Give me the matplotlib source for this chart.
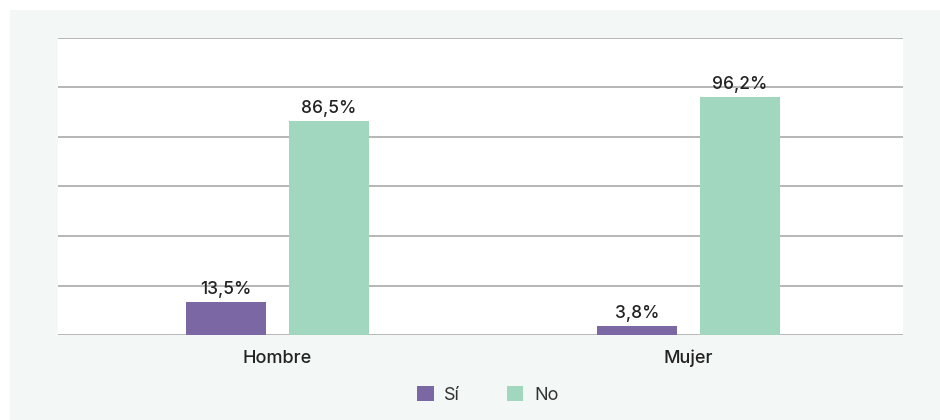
import matplotlib.pyplot as plt
from matplotlib.patches import Patch, Rectangle
import numpy as np

# Data
categories = ["Hombre", "Mujer"]
si_values = [13.5, 3.8]
no_values = [86.5, 96.2]
series_names = ["Sí", "No"]

purple = "#7b67a3"
green = "#a2d7bf"
panel_bg = "#f3f8f6"
text_color = "#222222"

plt.rcParams['font.family'] = ['Inter', 'DejaVu Sans']

fig = plt.figure(figsize=(9.4, 4.2), dpi=100, facecolor="white")
# light panel behind the chart
fig.patches.append(Rectangle((10 / 940, 0), 930 / 940, 410 / 420,
                             transform=fig.transFigure, facecolor=panel_bg,
                             edgecolor="none", zorder=-10))

ax = fig.add_axes([58 / 940, 85 / 420, 845 / 940, 297 / 420])
ax.set_facecolor("white")

x = np.arange(len(categories))
width = 0.195
offset = 0.125

bars_si = ax.bar(x - offset, si_values, width, color=purple, zorder=3)
bars_no = ax.bar(x + offset, no_values, width, color=green, zorder=3)

for bars, vals in [(bars_si, si_values), (bars_no, no_values)]:
    for b, v in zip(bars, vals):
        ax.text(b.get_x() + b.get_width() / 2, v + 1.5,
                f"{v:.1f}%".replace(".", ","),
                ha="center", va="bottom", fontsize=12.5, fontweight="medium",
                color=text_color, zorder=4)

ax.set_ylim(0, 120)
ax.set_yticks(np.arange(0, 121, 20))
ax.yaxis.grid(True, color="#a3a3a3", linewidth=1.1)
ax.set_axisbelow(True)
ax.tick_params(axis="y", left=False, labelleft=False)
ax.tick_params(axis="x", bottom=False, labelsize=13, labelcolor=text_color, pad=7)
ax.set_xticks(x)
ax.set_xticklabels(categories, fontweight="medium")
ax.set_xlim(-0.534, 1.522)
for s in ["left", "right", "top", "bottom"]:
    ax.spines[s].set_visible(False)

handles = [Patch(facecolor=purple, edgecolor="none"),
           Patch(facecolor=green, edgecolor="none")]
fig.legend(handles, series_names, loc="center", bbox_to_anchor=(488 / 940, 1 - 395 / 420),
           ncol=2, frameon=False, fontsize=13, handlelength=0.9, handleheight=0.9,
           handletextpad=0.6, columnspacing=2.6, labelcolor="#333333")

fig.savefig("out.png", dpi=100, facecolor="white")
